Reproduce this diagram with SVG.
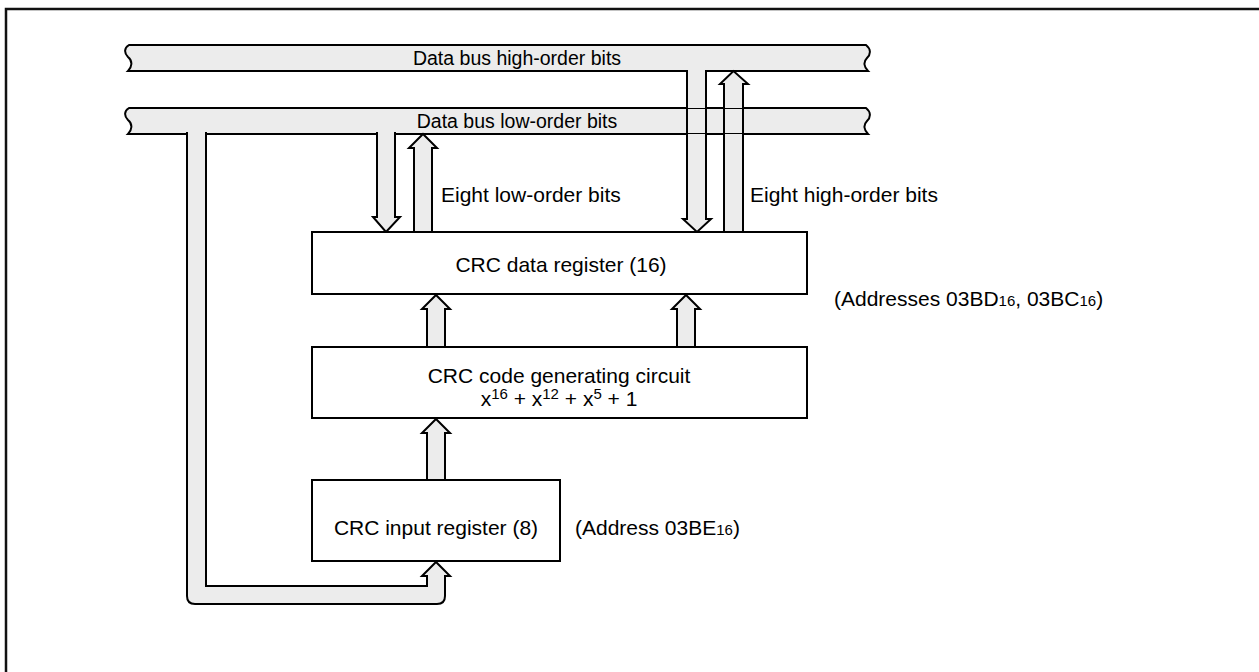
<svg xmlns="http://www.w3.org/2000/svg" width="1259" height="672" viewBox="0 0 1259 672">
<style>
.bus{fill:#ececec;stroke:none}
.ln{fill:none;stroke:#000;stroke-width:2;stroke-linejoin:miter}
.pf{fill:#ececec;stroke:none}
.box{fill:#fff;stroke:#000;stroke-width:2}
.t{font-family:"Liberation Sans",Arial,sans-serif;font-size:21px;fill:#000}
.bt{font-family:"Liberation Sans",Arial,sans-serif;font-size:19.5px;fill:#000}
.s{font-size:15px}
</style>
<rect x="6" y="9" width="1300" height="700" fill="none" stroke="#111" stroke-width="2.5"/>
<g id="bus-high">
<path class="bus" d="M129,45 H866 C871,49 871,54 867,58 C863,62 864,67 868,71 H128 C132,67 133,61 128,57 C124,53 124,48 129,45 Z"/>
<path class="ln" d="M129,45 H866 C871,49 871,54 867,58 C863,62 864,67 868,71 H128 C132,67 133,61 128,57 C124,53 124,48 129,45 Z"/>
<text class="bt" x="517" y="64.5" text-anchor="middle">Data bus high-order bits</text>
</g>
<g id="bus-low">
<path class="bus" d="M129,108 H866 C871,112 871,117 867,121 C863,125 864,130 868,134 H128 C132,130 133,124 128,120 C124,116 124,111 129,108 Z"/>
<path class="ln" d="M129,108 H866 C871,112 871,117 867,121 C863,125 864,130 868,134 H128 C132,130 133,124 128,120 C124,116 124,111 129,108 Z"/>
<text class="bt" x="517" y="127.5" text-anchor="middle">Data bus low-order bits</text>
</g>
<g id="connectors">
<path class="pf" d="M187,131.5 H206 V586 H427 V576 H422 L436,562 L450,576 H445 V596 Q445,604 437,604 H195 Q187,604 187,596 Z"/>
<path class="ln" d="M187,132 V596 Q187,604 195,604 H437 Q445,604 445,596 V576 H450 L436,562 L422,576 H427 V586 H206 V132"/>
<path class="pf" d="M377,131.5 H395 V217 H400 L386,232 L373,217 H377 Z"/>
<path class="ln" d="M377,132 V217 H373 L386,232 L400,217 H395 V132"/>
<path class="pf" d="M414,232 V148 H409 L423,134 L437,148 H432 V232 Z"/>
<path class="ln" d="M414,232 V148 H409 L423,134 L437,148 H432 V232"/>
<path class="pf" d="M687,69 H706 V108 H687 Z M687,134 H706 V219 H711 L697,232 L683,219 H687 Z"/>
<path class="ln" d="M687,70 V219 H683 L697,232 L711,219 H706 V70"/>
<path class="pf" d="M724,232 V134 H743 V232 Z M724,108 V84 H720 L733.5,71 L748,84 H743 V108 Z"/>
<path class="ln" d="M724,232 V84 H720 L733.5,71 L748,84 H743 V232"/>
<path class="pf" d="M427,347 V309 H422 L436,295 L450,309 H445 V347 Z"/>
<path class="ln" d="M427,347 V309 H422 L436,295 L450,309 H445 V347"/>
<path class="pf" d="M677,347 V309 H672 L686,295 L700,309 H695 V347 Z"/>
<path class="ln" d="M677,347 V309 H672 L686,295 L700,309 H695 V347"/>
<path class="pf" d="M427,480 V433 H422 L436,419 L450,433 H445 V480 Z"/>
<path class="ln" d="M427,480 V433 H422 L436,419 L450,433 H445 V480"/>
</g>
<g id="data-register">
<rect class="box" x="312" y="232" width="495" height="62"/>
<text class="t" x="561" y="272" text-anchor="middle">CRC data register (16)</text>
</g>
<g id="code-circuit">
<rect class="box" x="312" y="347" width="495" height="71"/>
<text class="t" x="559" y="383" text-anchor="middle">CRC code generating circuit</text>
<text class="t" x="559" y="406" text-anchor="middle">x<tspan class="s" dy="-7">16</tspan><tspan dy="7"> + x</tspan><tspan class="s" dy="-7">12</tspan><tspan dy="7"> + x</tspan><tspan class="s" dy="-7">5</tspan><tspan dy="7"> + 1</tspan></text>
</g>
<g id="input-register">
<rect class="box" x="312" y="480" width="248" height="81"/>
<text class="t" x="436" y="535" text-anchor="middle">CRC input register (8)</text>
</g>
<g id="labels">
<text class="t" x="441" y="202">Eight low-order bits</text>
<text class="t" x="750" y="202">Eight high-order bits</text>
<text class="t" x="834" y="306">(Addresses 03BD<tspan class="s">16</tspan>, 03BC<tspan class="s">16</tspan>)</text>
<text class="t" x="575" y="535">(Address 03BE<tspan class="s">16</tspan>)</text>
</g>
</svg>
